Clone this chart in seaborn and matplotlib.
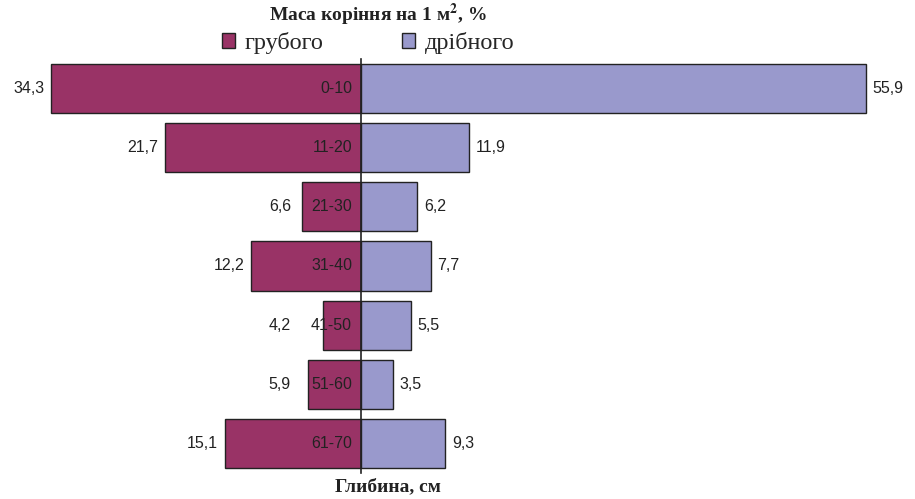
import matplotlib
matplotlib.use('Agg')
import matplotlib.pyplot as plt
import seaborn as sns
import pandas as pd
from matplotlib.patches import Patch

# Дані: маса коріння на 1 м2, %
depths = ['0-10', '11-20', '21-30', '31-40', '41-50', '51-60', '61-70']
coarse = [34.3, 21.7, 6.6, 12.2, 4.2, 5.9, 15.1]
fine = [55.9, 11.9, 6.2, 7.7, 5.5, 3.5, 9.3]

coarse_color = '#993366'
fine_color = '#9999cc'
ink = '#222222'

sns.set_theme(style='white')
plt.rcParams['font.family'] = ['Liberation Sans', 'DejaVu Sans']
plt.rcParams['mathtext.fontset'] = 'stix'

df = pd.DataFrame({'depth': depths, 'coarse': [-v for v in coarse], 'fine': fine})

fig = plt.figure(figsize=(9.15, 4.99), dpi=100)
ax = fig.add_axes([0, 26 / 499, 1, 414 / 499])

sns.barplot(data=df, x='coarse', y='depth', orient='h', color=coarse_color,
            width=0.83, edgecolor=ink, linewidth=1, saturation=1, ax=ax)
sns.barplot(data=df, x='fine', y='depth', orient='h', color=fine_color,
            width=0.83, edgecolor=ink, linewidth=1, saturation=1, ax=ax)

ax.set_xlim(-40.0, 61.35)
ax.set_ylim(6.5, -0.5)
ax.set_xlabel('')
ax.set_ylabel('')
ax.set_xticks([])

# вертикальна вісь посередині
for s in ['top', 'right', 'bottom']:
    ax.spines[s].set_visible(False)
ax.spines['left'].set_position(('data', 0))
ax.spines['left'].set_color(ink)
ax.spines['left'].set_linewidth(1.2)
ax.spines['left'].set_zorder(5)
ax.tick_params(axis='y', which='major', length=0, labelleft=False)
ax.set_yticks([i + 0.5 for i in range(-1, len(depths))], minor=True)
ax.tick_params(axis='y', which='minor', length=4, width=1, direction='inout', color=ink)

# підписи глибини всередині лівих смуг
for i, d in enumerate(depths):
    ax.annotate(d, (0, i), xytext=(-6.5, 0), textcoords='offset points',
                ha='right', va='center', fontsize=11.5, color=ink, zorder=6)

# підписи значень
for i, (c, f) in enumerate(zip(coarse, fine)):
    ax.annotate(f'{c:.1f}'.replace('.', ','), (-max(c, 7.0), i), xytext=(-5, 0),
                textcoords='offset points', ha='right', va='center', fontsize=11.5, color=ink)
    ax.annotate(f'{f:.1f}'.replace('.', ','), (f, i), xytext=(5, 0),
                textcoords='offset points', ha='left', va='center', fontsize=11.5, color=ink)

fig.text(378 / 915, 1 - 15 / 499, 'Маса коріння на 1 м$^\\mathbf{2}$, %', ha='center', va='center',
         fontsize=14, fontweight='bold', family=['Liberation Serif', 'DejaVu Serif'], color=ink)
fig.text(388 / 915, 1 - 487 / 499, 'Глибина, см', ha='center', va='center',
         fontsize=14, fontweight='bold', family=['Liberation Serif', 'DejaVu Serif'], color=ink)

handles = [Patch(facecolor=coarse_color, edgecolor=ink, label='грубого'),
           Patch(facecolor=fine_color, edgecolor=ink, label='дрібного')]
fig.legend(handles=handles, loc='center', bbox_to_anchor=(368 / 915, 1 - 43 / 499), ncol=2,
           frameon=False, handlelength=0.55, handleheight=0.55, handletextpad=0.4,
           columnspacing=3.2, prop={'family': 'Liberation Serif', 'size': 17.5})

fig.savefig('out.png', dpi=100)
